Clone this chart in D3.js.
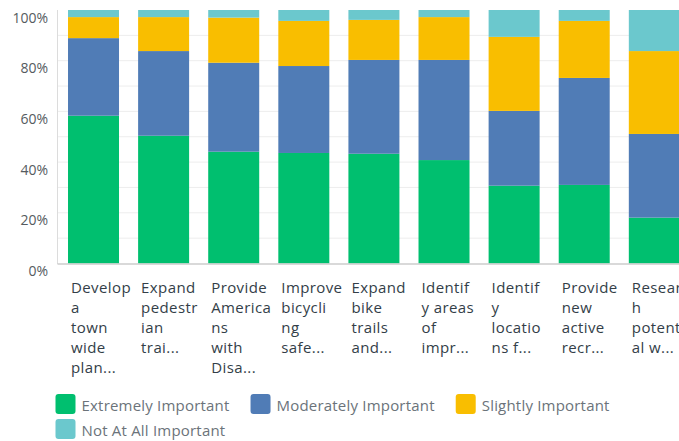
<!DOCTYPE html>
<html>
<head>
<meta charset="utf-8">
<script src="https://cdn.jsdelivr.net/npm/d3@7"></script>
<style>
  html, body { margin: 0; padding: 0; background: #fff; overflow: hidden; }
  svg { display: block; }
</style>
</head>
<body>
<svg id="chart" width="679" height="441"></svg>
<script>
// ---- data ----
const categories = [
  ["Develop", "a", "town", "wide", "plan..."],
  ["Expand", "pedestr", "ian", "trai..."],
  ["Provide", "America", "ns", "with", "Disa..."],
  ["Improve", "bicycli", "ng", "safe..."],
  ["Expand", "bike", "trails", "and..."],
  ["Identif", "y areas", "of", "impr..."],
  ["Identif", "y", "locatio", "ns f..."],
  ["Provide", "new", "active", "recr..."],
  ["Researc", "h", "potenti", "al w..."]
];
const seriesNames = ["Extremely Important", "Moderately Important", "Slightly Important", "Not At All Important"];
const extremely  = [58.3, 50.4, 44.1, 43.6, 43.3, 40.8, 30.7, 31.0, 18.1];
const moderately = [30.6, 33.4, 35.1, 34.3, 37.0, 39.5, 29.5, 42.2, 33.0];
const slightly   = [8.3, 13.4, 17.8, 17.8, 15.8, 16.9, 29.2, 22.5, 32.7];
const notAtAll   = [2.8, 2.8, 3.0, 4.3, 3.9, 2.8, 10.6, 4.3, 16.2];
const yTicks = [0, 20, 40, 60, 80, 100];
const colors = ["#00bf6f", "#507cb6", "#f9be00", "#6bc8cd"];

// ---- build ----
const seriesValues = [extremely, moderately, slightly, notAtAll];
const rows = categories.map((c, i) => {
  const r = { idx: i };
  seriesNames.forEach((s, k) => { r[s] = seriesValues[k][i]; });
  return r;
});

const svg = d3.select("#chart");
const x0 = 57.5, step = 70.1;
const x = d3.scaleBand()
  .domain(d3.range(categories.length))
  .range([x0, x0 + step * (categories.length - 0.2725 + 0.3)])
  .paddingInner(0.2725)
  .paddingOuter(0.15);
const y = d3.scaleLinear().domain([0, 100]).range([263.5, 10]);
const color = d3.scaleOrdinal().domain(seriesNames).range(colors);

// gridlines
svg.append("g").selectAll("line")
  .data(d3.range(10, 100, 10))
  .join("line")
  .attr("x1", x0).attr("x2", 679)
  .attr("y1", d => y(d)).attr("y2", d => y(d))
  .attr("stroke", "#ededed").attr("stroke-width", 1);

// bars
const stack = d3.stack().keys(seriesNames);
const stacked = stack(rows);
svg.append("g").selectAll("g")
  .data(stacked)
  .join("g")
  .attr("fill", d => color(d.key))
  .selectAll("rect")
  .data(d => d)
  .join("rect")
  .attr("x", d => x(d.data.idx))
  .attr("width", x.bandwidth())
  .attr("y", d => y(Math.min(100, d[1])))
  .attr("height", d => y(d[0]) - y(Math.min(100, d[1])));

// axis lines
svg.append("line")
  .attr("x1", x0).attr("x2", x0).attr("y1", 10).attr("y2", 264)
  .attr("stroke", "#dcdcdc").attr("stroke-width", 1);
svg.append("line")
  .attr("x1", x0).attr("x2", 679).attr("y1", 264).attr("y2", 264)
  .attr("stroke", "#cccccc").attr("stroke-width", 1.5);

// y tick labels
svg.append("g").selectAll("text")
  .data(yTicks)
  .join("text")
  .attr("x", 48)
  .attr("y", d => y(d) + 7)
  .attr("text-anchor", "end")
  .attr("dominant-baseline", "central")
  .attr("font-family", "'Open Sans', sans-serif")
  .attr("font-size", 14)
  .attr("fill", "#555b60")
  .text(d => d + "%");

// category labels
const lab = svg.append("g").selectAll("text")
  .data(categories)
  .join("text")
  .attr("x", (d, i) => x(i) + 3)
  .attr("y", 293)
  .attr("font-family", "'Open Sans', sans-serif")
  .attr("font-size", 15)
  .attr("letter-spacing", 0.4)
  .attr("fill", "#333e48");
lab.selectAll("tspan")
  .data((d, i) => d.map(t => ({ t, i })))
  .join("tspan")
  .attr("x", d => x(d.i) + 3)
  .attr("dy", (d, j) => j === 0 ? 0 : 20)
  .text(d => d.t);

// legend
const legend = svg.append("g");
let lx = 55.5, ly = 394;
const maxX = 650;
seriesNames.forEach((s, k) => {
  const g = legend.append("g");
  const t = g.append("text")
    .attr("font-family", "'Open Sans', sans-serif")
    .attr("font-size", 15)
    .attr("letter-spacing", 0.2)
    .attr("fill", "#6b737a")
    .attr("dominant-baseline", "central")
    .text(s);
  const w = t.node().getComputedTextLength();
  if (lx + 26 + w > maxX) { lx = 55.5; ly += 25; }
  g.append("rect")
    .attr("x", lx).attr("y", ly).attr("width", 20).attr("height", 20)
    .attr("rx", 3).attr("fill", colors[k]);
  t.attr("x", lx + 26).attr("y", ly + 10.5);
  lx = lx + 26 + w + 21;
});
</script>
</body>
</html>
